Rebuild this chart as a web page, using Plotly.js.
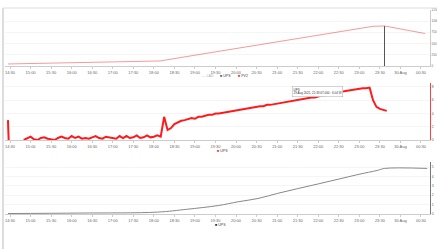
<!DOCTYPE html>
<html><head><meta charset="utf-8">
<script src="https://cdn.plot.ly/plotly-3.0.1.min.js"></script>
<style>html,body{margin:0;padding:0;background:#fff}#chart{width:437px;height:249px}</style>
</head><body><div id="chart"></div>
<script>
// ---- tick labels (shared time axis) ----
const tickTimes = ['2021-08-29 14:30','2021-08-29 15:00','2021-08-29 15:30','2021-08-29 16:00','2021-08-29 16:30','2021-08-29 17:00','2021-08-29 17:30','2021-08-29 18:00','2021-08-29 18:30','2021-08-29 19:00','2021-08-29 19:30','2021-08-29 20:00','2021-08-29 20:30','2021-08-29 21:00','2021-08-29 21:30','2021-08-29 22:00','2021-08-29 22:30','2021-08-29 23:00','2021-08-29 23:30','2021-08-30 00:00','2021-08-30 00:30'];
const tickLabels = ['14:30','15:00','15:30','16:00','16:30','17:00','17:30','18:00','18:30','19:00','19:30','20:00','20:30','21:00','21:30','22:00','22:30','23:00','23:30','30 Aug','00:30'];

// ---- chart 1 ----
const pvTimes = ['2021-08-29 14:27','2021-08-29 16:00','2021-08-29 18:09','2021-08-29 19:00','2021-08-29 20:00','2021-08-29 21:00','2021-08-29 22:00','2021-08-29 23:00','2021-08-29 23:20','2021-08-29 23:37','2021-08-29 23:45','2021-08-30 00:00','2021-08-30 00:15','2021-08-30 00:36'];
const pvValues = [45,67,112,241,390,540,690,844,886,893,870,826,770,725];
const upsBarTimes = ['2021-08-29 23:37'];
const upsBarValues = [893];

// ---- chart 2 (5-minute samples) ----
const upsEarlyTimes = ['2021-08-29 14:27','2021-08-29 14:28'];
const upsEarlyValues = [3.0, 0];
const upsStart = '2021-08-29 14:50';
const upsStepMinutes = 5;
const upsValues = [
 0.0,0.3,0.5,0.1,0.0,0.3,0.4,0.2,0.1,0.0,
 0.3,0.5,0.3,0.2,0.6,0.3,0.5,0.2,0.3,0.2,
 0.4,0.6,0.3,0.2,0.5,0.4,0.3,0.2,0.6,0.3,
 0.6,0.3,0.4,0.7,0.3,0.4,0.7,0.4,0.5,0.7,
 0.5,
 3.5,1.5,1.8,2.4,2.7,2.9,3.0,3.1,3.3,3.2,3.5,3.5,3.7,3.8,3.8,4.0,4.0,
 4.1,4.2,4.3,4.3,4.5,4.5,4.7,4.7,4.8,4.9,5.0,5.1,5.1,5.3,5.3,5.4,5.5,5.6,5.7,5.7,
 5.9,6.0,6.0,6.1,6.3,6.3,6.4,6.4,6.6,6.7,6.7,6.9,7.0,7.0,7.2,7.3,7.4,7.5,7.5,7.6,
 7.7,7.8,7.8,7.9,
 6.0,5.0,4.7,4.5,4.4];

// ---- chart 3 ----
const energyTimes = ['2021-08-29 14:27','2021-08-29 16:12','2021-08-29 18:05','2021-08-29 18:48','2021-08-29 19:34','2021-08-29 20:03','2021-08-29 20:32','2021-08-29 21:01','2021-08-29 21:30','2021-08-29 22:00','2021-08-29 22:29','2021-08-29 22:58','2021-08-29 23:27','2021-08-29 23:37','2021-08-30 00:39'];
const energyValues = [0.05,0.1,0.2,0.5,0.9,1.3,1.65,2.2,2.7,3.2,3.7,4.2,4.65,4.85,4.85];

// legend names
const seriesNames = ['LAD','UPS','PV2'];

// build the 5-minute time grid
function pad(n){return (n<10?'0':'')+n;}
const t0 = new Date(upsStart.replace(' ','T')+':00');
const upsTimes = upsValues.map((_,i)=>{const d=new Date(t0.getTime()+i*upsStepMinutes*60000);
  return d.getFullYear()+'-'+pad(d.getMonth()+1)+'-'+pad(d.getDate())+' '+pad(d.getHours())+':'+pad(d.getMinutes());});
const ups2X = upsEarlyTimes.concat([null], upsTimes);
const ups2Y = upsEarlyValues.concat([null], upsValues);

const W=437,H=249;
const xdom=[5/W,430/W];
const range=['2021-08-29 14:22:40','2021-08-30 00:43:10'];
const FF='Liberation Sans, Arial, sans-serif';
const tickFont={size:4,color:'#666',family:FF};
function xax(anchor){return {domain:xdom,range:range,type:'date',anchor:anchor,tickmode:'array',tickvals:tickTimes,ticktext:tickLabels,
  tickfont:tickFont,ticks:'outside',ticklen:2,tickcolor:'#ccc',showline:true,linecolor:'#ccc',linewidth:1,showgrid:false,zeroline:false,automargin:false,fixedrange:true};}
function yax(dom,rng,dt,lc,fs){return {domain:dom,range:rng,dtick:dt,side:'right',tickfont:{size:fs,color:'#666',family:FF},showline:true,linecolor:lc,linewidth:1,
  gridcolor:'#eee',gridwidth:0.6,zeroline:false,ticks:'',automargin:false,ticklabelstandoff:0};}

const traces=[
 {x:upsBarTimes,y:upsBarValues,type:'bar',name:seriesNames[1],width:80000,marker:{color:'#555'},xaxis:'x',yaxis:'y'},
 {x:pvTimes,y:pvValues,type:'scatter',mode:'lines',name:seriesNames[2],line:{color:'rgba(240,70,70,0.55)',width:1},xaxis:'x',yaxis:'y'},
 {x:ups2X,y:ups2Y,type:'scatter',mode:'lines',name:seriesNames[1],line:{color:'#ff1a1a',width:2},connectgaps:false,xaxis:'x2',yaxis:'y2'},
 {x:energyTimes,y:energyValues,type:'scatter',mode:'lines',name:seriesNames[1],line:{color:'#888',width:1,shape:'spline'},xaxis:'x3',yaxis:'y3'}
];
function legAnn(px,py,html){return {xref:'paper',yref:'paper',x:px/W,y:1-py/H,xanchor:'left',yanchor:'middle',showarrow:false,text:html,
  font:{size:3.6,color:'#444',family:FF},borderpad:0};}
const layout={
 width:W,height:H,margin:{l:0,r:0,t:0,b:0},paper_bgcolor:'#fff',plot_bgcolor:'#fff',showlegend:false,
 xaxis:xax('y'),xaxis2:xax('y2'),xaxis3:xax('y3'),
 yaxis:yax([1-66/H,1-10/H],[0,1250],250,'#ccc',3),
 yaxis2:yax([1-140/H,1-83/H],[0,8.6],2,'#ff4040',3.5),
 yaxis3:yax([1-214/H,1-162.3/H],[0,5.5],1,'#777',3.5),
 bargap:0,
 shapes:[
  {type:'line',xref:'paper',yref:'paper',x0:3/W,x1:3/W,y0:1-8/H,y1:0,line:{color:'#bbb',width:1}},
  {type:'line',xref:'paper',yref:'paper',x0:3/W,x1:1,y0:1-8/H,y1:1-8/H,line:{color:'#ddd',width:1}}
 ],
 annotations:[
  legAnn(201,76,'<span style="color:#bbb">—</span> <span style="color:#aaa">'+seriesNames[0]+'</span>'),
  legAnn(219,76,'<span style="color:#555">■</span> '+seriesNames[1]),
  legAnn(237,76,'<span style="color:#ff2020">■</span> '+seriesNames[2]),
  legAnn(216,151,'<span style="color:#ff2020">■</span> '+seriesNames[1]),
  legAnn(214,225,'<span style="color:#222">■</span> '+seriesNames[1]),
  {xref:'paper',yref:'paper',x:292/W,y:1-91/H,xanchor:'left',yanchor:'middle',text:'UPS<br>29 Aug 2021, 21:33:07.000 : 6.04 W',showarrow:false,align:'left',
   font:{size:3,color:'#333',family:FF},bgcolor:'#fff',bordercolor:'#aaa',borderwidth:0.5,borderpad:1}
 ]
};
Plotly.newPlot('chart',traces,layout,{staticPlot:true,displayModeBar:false});
</script></body></html>
